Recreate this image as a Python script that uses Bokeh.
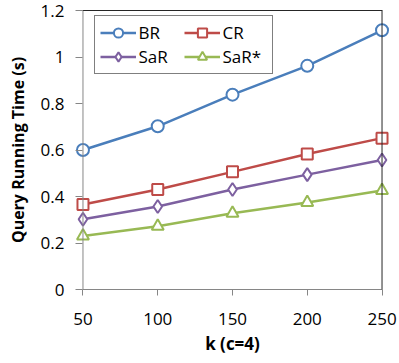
from bokeh.plotting import figure
from bokeh.models import (Range1d, LinearAxis, FixedTicker, Span, Legend, LegendItem,
                          CustomJSTickFormatter)
from bokeh.embed import file_html
from bokeh.resources import INLINE

# ---- data ----
k = [50, 100, 150, 200, 250]
br = [0.600, 0.702, 0.838, 0.962, 1.115]
cr = [0.366, 0.430, 0.506, 0.583, 0.651]
sar = [0.302, 0.357, 0.430, 0.494, 0.557]
sar_star = [0.230, 0.272, 0.328, 0.374, 0.426]
series_names = ["BR", "CR", "SaR", "SaR*"]
y_ticks = [0, 0.2, 0.4, 0.6, 0.8, 1.0, 1.2]
y_tick_labels = ["0", "0.2", "0.4", "0.6", "0.8", "1", "1.2"]
x_label = "k (c=4)"
y_label = "Query Running Time (s)"

# ---- style ----
FONT = "Open Sans"
colors = ["#4A7EBB", "#BE4B48", "#7D60A0", "#98B954"]
markers = ["circle", "square", "diamond", "triangle"]
sizes = [12, 11, 13, 12]
AXIS_GRAY = "#868686"
BORDER = "#262626"
pad = 5
FH = 279

p = figure(frame_width=314, frame_height=FH,
           x_range=Range1d(k[0] - pad, k[-1] + pad),
           y_range=Range1d(y_ticks[0], y_ticks[-1]),
           output_backend="svg", toolbar_location=None,
           min_border_left=75, min_border_right=8, min_border_top=10, min_border_bottom=0,
           x_axis_label=x_label, y_axis_label=y_label)
p.outline_line_color = None
p.grid.visible = False
p.background_fill_color = "white"
p.border_fill_color = "white"

# y axis: drawn at frame edge, ticks reach inward to the visible axis line at k[0]
ya = p.yaxis[0]
ya.ticker = FixedTicker(ticks=y_ticks)
ya.formatter = CustomJSTickFormatter(
    args=dict(yt=y_ticks, yl=y_tick_labels),
    code="""
    for (let i = 0; i < yt.length; i++) {
        if (Math.abs(yt[i] - tick) < 1e-9) { return yl[i]; }
    }
    return String(tick);
    """)
# x axis
xa = p.xaxis[0]
xa.bounds = (k[0], k[-1])
xa.ticker = FixedTicker(ticks=k)

for ax in (ya, xa):
    ax.axis_line_color = AXIS_GRAY
    ax.axis_line_width = 1
    ax.major_tick_line_color = AXIS_GRAY
    ax.major_tick_out = 6
    ax.major_tick_in = 0
    ax.minor_tick_line_color = None
    ax.major_label_text_font = FONT
    ax.major_label_text_font_size = "17px"
    ax.major_label_text_color = "black"
    ax.axis_label_text_font = FONT
    ax.axis_label_text_font_size = "17px"
    ax.axis_label_text_font_style = "bold"
    ax.axis_label_text_color = "black"
ya.axis_line_color = None
ya.major_tick_out = 0
ya.major_tick_in = 7
ya.major_label_standoff = 11
ya.axis_label_standoff = 9
ya.axis_label_text_font_size = "16px"
xa.major_label_standoff = 17
xa.axis_label_standoff = 4

# visible y axis line at the first category
p.add_layout(Span(location=k[0], dimension="height", line_color=AXIS_GRAY, line_width=1))

# top border via empty axis
top = LinearAxis(bounds=(k[0], k[-1]), ticker=FixedTicker(ticks=[]),
                 axis_line_color=BORDER, major_tick_line_color=None,
                 minor_tick_line_color=None, major_label_text_font_size="0px")
p.add_layout(top, "above")
# right border
p.add_layout(Span(location=k[-1], dimension="height", line_color=BORDER, line_width=1))

renderers = {}
for name, ys, c, m, s in zip(series_names, [br, cr, sar, sar_star], colors, markers, sizes):
    rl = p.line(k, ys, line_color=c, line_width=2.5)
    rs = p.scatter(k, ys, marker=m, size=s, line_color=c, line_width=2, fill_color="white")
    renderers[name] = [rl, rs]

# legend fills column-wise: order so it reads BR CR / SaR SaR* row-wise
order = [series_names[0], series_names[2], series_names[1], series_names[3]]
items = [LegendItem(label=n, renderers=renderers[n]) for n in order]
legend = Legend(items=items, ncols=2, location=(18.5, FH - 6.5 - 57),
                border_line_color="black", border_line_width=1,
                background_fill_color="white", background_fill_alpha=1,
                label_text_font=FONT, label_text_font_size="17px", label_text_color="black",
                glyph_width=36, glyph_height=23, label_height=23, label_width=44,
                label_standoff=3, spacing=1, padding=5, margin=0)
p.add_layout(legend)

open("out.html", "w").write(file_html(p, INLINE))
